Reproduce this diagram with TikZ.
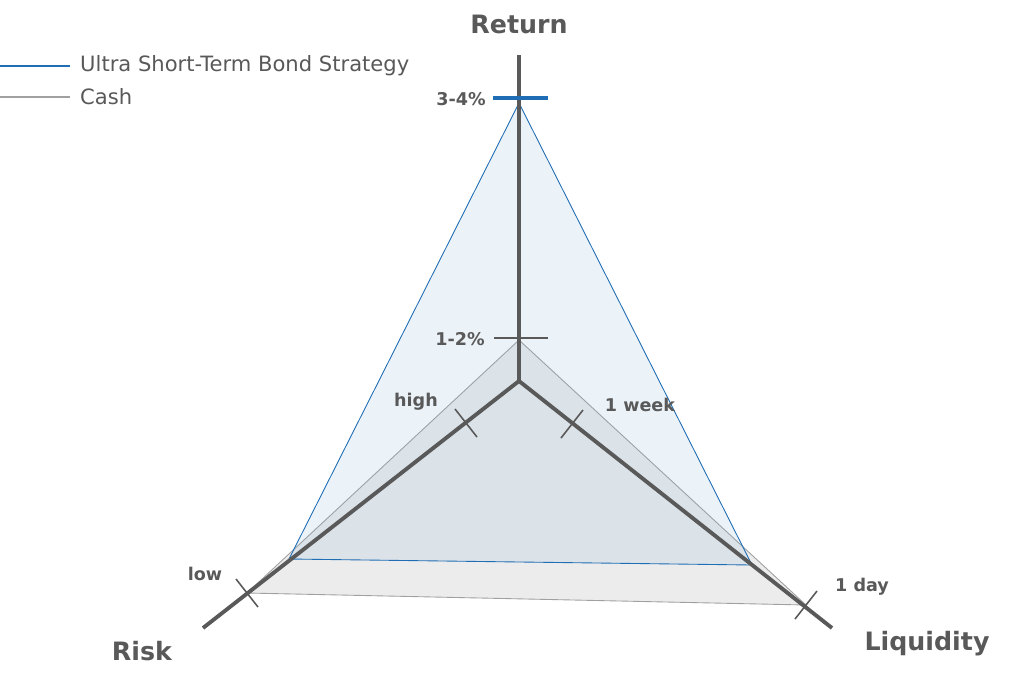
\documentclass[tikz,border=0pt]{standalone}
\usepackage{fontspec}
\setmainfont{DejaVu Sans}
\usetikzlibrary{positioning}
\definecolor{mgray}{HTML}{595959}
\definecolor{mblue}{HTML}{1F6DB4}
\definecolor{lgray}{HTML}{A0A0A0}
\tikzstyle{axis}=[line width=2.2pt, draw=mgray]
\tikzstyle{tick}=[line width=0.9pt, draw=mgray]
\tikzstyle{lbl}=[text=mgray, font=\bfseries\normalsize]
\tikzstyle{ttl}=[text=mgray, font=\bfseries\Large]
\begin{document}
\begin{tikzpicture}[x=0.02cm, y=-0.02cm]
    \useasboundingbox (0,0) rectangle (1024,691);
    \coordinate (c) at (519,381);
    \coordinate (ret) at (519,55);
    \coordinate (risk) at (203,628);
    \coordinate (liq) at (832,628);

    % filled areas
    \fill[lgray, opacity=0.2] (519,340) -- (247,593) -- (806,605) -- cycle;
    \draw[lgray, line width=0.5pt] (519,340) -- (247,593) -- (806,605) -- cycle;
    \fill[mblue!60, opacity=0.15] (519,103) -- (289,559) -- (752,565) -- cycle;
    \draw[mblue, line width=0.5pt] (519,103) -- (289,559) -- (752,565) -- cycle;

    % axes
    \draw[axis] (c) -- (ret);
    \draw[axis] (c) -- (risk);
    \draw[axis] (c) -- (liq);

    % ticks
    \draw[line width=2.5pt, mblue] (493,98) -- (548,98);
    \draw[tick] (494,338) -- (548,338);
    \draw[tick] (455,409) -- (477,437);
    \draw[tick] (236,579) -- (258,607);
    \draw[tick] (583,410) -- (561,438);
    \draw[tick] (817,591) -- (795,619);

    % labels
    \node[ttl] (tret) at (519,24) {Return};
    \node[ttl] (trisk) at (142,651) {Risk};
    \node[ttl] (tliq) at (927,644) {Liquidity};
    \node[lbl, anchor=east] (l34) at (492,99) {3-4\%};
    \node[lbl, anchor=east] (l12) at (491,339) {1-2\%};
    \node[lbl] (lhigh) at (416,402) {high};
    \node[lbl] (llow) at (205,574) {low};
    \node[lbl] (lweek) at (640,405) {1 week};
    \node[lbl] (lday) at (862,587) {1 day};

    % legend
    \draw[line width=1.5pt, mblue] (0,66) -- (70,66);
    \node[text=mgray, anchor=west, font=\large] (ls) at (74,66) {Ultra Short-Term Bond Strategy};
    \draw[line width=1.5pt, lgray] (0,97) -- (70,97);
    \node[text=mgray, anchor=west, font=\large] (lc) at (74,97) {Cash};
\end{tikzpicture}
\end{document}
